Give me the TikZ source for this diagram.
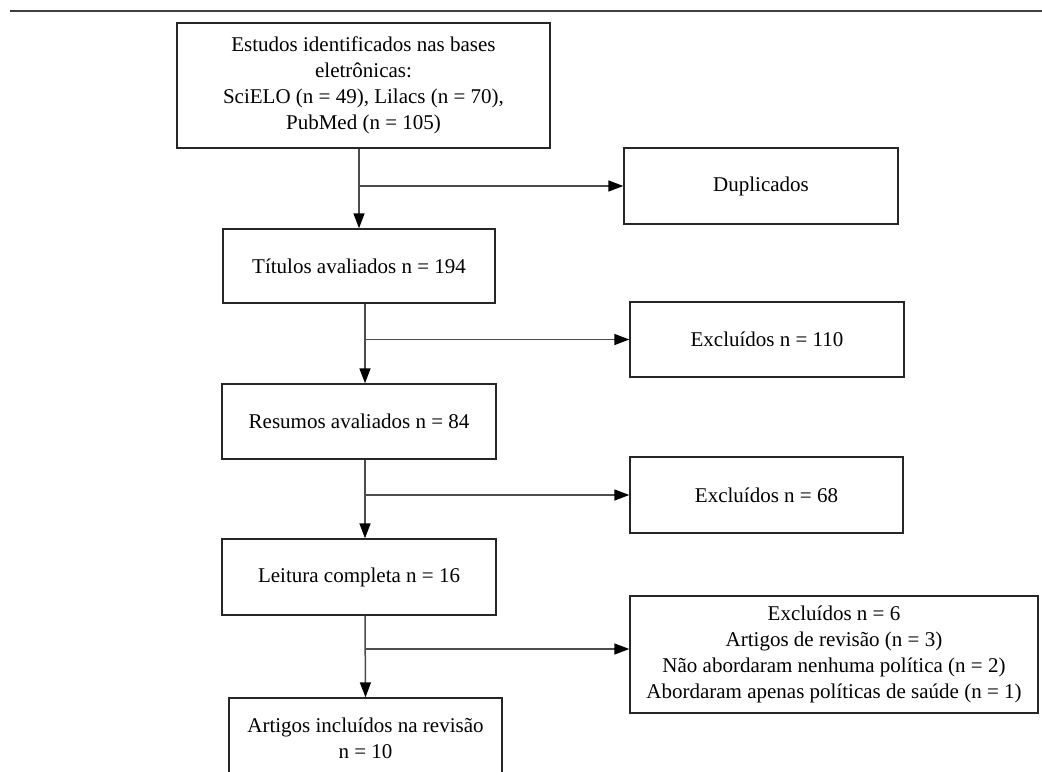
\documentclass[tikz,border=0pt]{standalone}
\usepackage{fontspec}
\setmainfont{Liberation Serif}
\usepackage{tikz}
\usetikzlibrary{arrows.meta}
\newcommand{\seta}{-{Triangle[length=7.5pt,width=5.5pt,black]}}

\begin{document}
\begin{tikzpicture}[x=.5pt,y=-.5pt,
  caixa/.style={draw=black!85,line width=.7pt,inner sep=0pt,align=center,
    font=\fontsize{10.5pt}{13pt}\selectfont},
  liga/.style={draw=black!70,line width=.75pt}]
\useasboundingbox (0,0) rectangle (1042,771);
\draw[black!75,line width=.7pt] (10,11) -- (1042,11);
%caixas do fluxo
\node[caixa,minimum width=186.5pt,minimum height=62.5pt] (est) at (363.5,85.5)
  {Estudos identificados nas bases\\eletrônicas:\\SciELO (n = 49), Lilacs (n = 70),\\PubMed (n = 105)};
\node[caixa,minimum width=137pt,minimum height=38pt] (dup) at (761,186) {Duplicados};
\node[caixa,minimum width=136pt,minimum height=37pt] (tit) at (359,266) {Títulos avaliados n = 194};
\node[caixa,minimum width=137pt,minimum height=37.5pt] (exc1) at (767,339.5) {Excluídos n = 110};
\node[caixa,minimum width=137pt,minimum height=37.5pt] (res) at (359,421.5) {Resumos avaliados n = 84};
\node[caixa,minimum width=136.5pt,minimum height=38pt] (exc2) at (766.5,495) {Excluídos n = 68};
\node[caixa,minimum width=137pt,minimum height=38pt] (lei) at (359,577) {Leitura completa n = 16};
\node[caixa,minimum width=204pt,minimum height=58.5pt] (exc3) at (834,654.5)
  {Excluídos n = 6\\Artigos de revisão (n = 3)\\Não abordaram nenhuma política (n = 2)\\Abordaram apenas políticas de saúde (n = 1)};
\node[caixa,minimum width=136.5pt,minimum height=40pt] (art) at (365.5,738)
  {Artigos incluídos na revisão\\n = 10};
%ligacoes
\draw[liga,\seta] (est.south -| tit) -- (tit.north);
\draw[liga,\seta] (tit.north |- dup.west) -- (dup.west);
\draw[liga,\seta] ([xshift=3pt]tit.south) -- ([xshift=3pt]res.north);
\draw[liga,\seta] ([xshift=3pt]tit.south |- exc1.west) -- (exc1.west);
\draw[liga,\seta] ([xshift=3pt]res.south) -- ([xshift=3pt]lei.north);
\draw[liga,\seta] ([xshift=3pt]res.south |- exc2.west) -- (exc2.west);
\draw[liga,\seta] ([xshift=3pt]lei.south) -- (art.north);
\draw[liga,\seta] ([xshift=3pt,yshift=2.75pt]lei.south |- exc3.west) -- ([yshift=2.75pt]exc3.west);
\end{tikzpicture}
\end{document}
